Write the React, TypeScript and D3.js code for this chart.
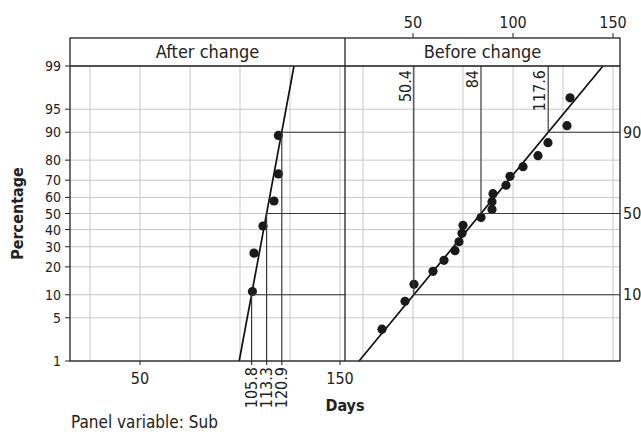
import * as d3 from 'd3';

// Normal probability plot, two panels (Before / After change)

const percentTicks = [1, 5, 10, 20, 30, 40, 50, 60, 70, 80, 90, 95, 99];
const dayGrid = [25, 50, 75, 100, 125, 150];
const refPercents = [10, 50, 90];

// After change
const afterDays = [106.2, 107, 111.5, 117, 119.2, 119.2];
const afterPct = [10.9, 26.6, 42.2, 57.8, 73.4, 89.1];
const afterRef = [105.8, 113.3, 120.9];

// Before change
const beforeDays = [
  34.5, 46, 50.5, 60, 65.5, 71, 73, 74.5, 75, 84,
  89.5, 89.5, 90, 96.5, 98.5, 105, 112.5, 117.5, 127, 128.5,
];
const beforePct = [
  3.4, 8.3, 13.2, 18.1, 23.0, 27.9, 32.8, 37.7, 42.6, 47.5,
  52.5, 57.4, 62.3, 67.2, 72.1, 77.0, 81.9, 86.8, 91.7, 96.6,
];
const beforeRef = [50.4, 84, 117.6];

const FONT = "'Liberation Sans Narrow', 'Arial Narrow', 'DejaVu Sans Condensed', sans-serif";
const GRID = '#c8c8c8';
const REF = '#3a3a3a';

// inverse normal cdf (Acklam)
function probit(p: number): number {
  const a = [-3.969683028665376e1, 2.209460984245205e2, -2.759285104469687e2, 1.38357751867269e2, -3.066479806614716e1, 2.506628277459239];
  const b = [-5.447609879822406e1, 1.615858368580409e2, -1.556989798598866e2, 6.680131188771972e1, -1.328068155288572e1];
  const c = [-7.784894002430293e-3, -3.223964580411365e-1, -2.400758277161838, -2.549732539343734, 4.374664141464968, 2.938163982698783];
  const d = [7.784695709041462e-3, 3.224671290700398e-1, 2.445134137142996, 3.754408661907416];
  const plow = 0.02425;
  if (p < plow) {
    const q = Math.sqrt(-2 * Math.log(p));
    return (((((c[0] * q + c[1]) * q + c[2]) * q + c[3]) * q + c[4]) * q + c[5]) / ((((d[0] * q + d[1]) * q + d[2]) * q + d[3]) * q + 1);
  }
  if (p > 1 - plow) {
    const q = Math.sqrt(-2 * Math.log(1 - p));
    return -(((((c[0] * q + c[1]) * q + c[2]) * q + c[3]) * q + c[4]) * q + c[5]) / ((((d[0] * q + d[1]) * q + d[2]) * q + d[3]) * q + 1);
  }
  const q = p - 0.5;
  const r = q * q;
  return ((((((a[0] * r + a[1]) * r + a[2]) * r + a[3]) * r + a[4]) * r + a[5]) * q) / (((((b[0] * r + b[1]) * r + b[2]) * r + b[3]) * r + b[4]) * r + 1);
}

const top = 66;
const bottom = 361;
const headTop = 38;
const left = 70;
const mid = 345;
const right = 620;

const zScale = d3.scaleLinear().domain([probit(0.01), probit(0.99)]).range([bottom, top]);
const y = (pct: number) => zScale(probit(pct / 100));

const xAfter = d3.scaleLinear().domain([15, 152.5]).range([left, mid]);
const xBefore = d3.scaleLinear().domain([16, 153.5]).range([mid, right]);

function fitLine(ref: number[]) {
  const sd = (ref[2] - ref[0]) / (2 * probit(0.9));
  const pts: [number, number][] = [1, 99].map((p) => [ref[1] + probit(p / 100) * sd, p]);
  return pts;
}

function Panel({ x, days, pct, ref }: { x: d3.ScaleLinear<number, number>; days: number[]; pct: number[]; ref: number[] }) {
  const [x0, x1] = x.range();
  const line = d3.line<[number, number]>().x((d) => x(d[0])).y((d) => y(d[1]));
  return (
    <g>
      {percentTicks.map((p) => (
        <line key={'h' + p} x1={x0} x2={x1} y1={y(p)} y2={y(p)} stroke={GRID} strokeWidth={1} />
      ))}
      {dayGrid.map((g) => (
        <line key={'v' + g} x1={x(g)} x2={x(g)} y1={top} y2={bottom} stroke={GRID} strokeWidth={1} />
      ))}
      <path d={line(fitLine(ref)) || ''} fill="none" stroke="#111" strokeWidth={1.7} />
      {days.map((d, i) => (
        <circle key={i} cx={x(d)} cy={y(pct[i])} r={4.6} fill="#1a1a1a" />
      ))}
    </g>
  );
}

export default function App() {
  const fs = 16;
  return (
    <svg width={641} height={432} style={{ position: 'absolute', left: 0, top: 0, background: '#fff' }} fontFamily={FONT}>
      <rect x={0} y={0} width={641} height={432} fill="#fff" />
      <Panel x={xAfter} days={afterDays} pct={afterPct} ref={afterRef} />
      <Panel x={xBefore} days={beforeDays} pct={beforePct} ref={beforeRef} />

      {/* Before change reference lines */}
      {beforeRef.map((r, i) => (
        <g key={'br' + i}>
          <line x1={xBefore(r)} x2={xBefore(r)} y1={top} y2={y(refPercents[i])} stroke={REF} strokeWidth={1.2} />
          <line x1={xBefore(r)} x2={right} y1={y(refPercents[i])} y2={y(refPercents[i])} stroke={REF} strokeWidth={1.2} />
          <text transform={`translate(${xBefore(r) - 3},${top + 4}) rotate(-90)`} textAnchor="end" fontSize={fs} fill="#222">
            {r}
          </text>
          <text x={right + 3} y={y(refPercents[i])} dy="0.35em" fontSize={fs} fill="#222">
            {refPercents[i]}
          </text>
        </g>
      ))}

      {/* After change reference lines */}
      {afterRef.map((r, i) => (
        <g key={'ar' + i}>
          <line x1={xAfter(r)} x2={xAfter(r)} y1={y(refPercents[i])} y2={bottom + 4} stroke={REF} strokeWidth={1.2} />
          <line x1={xAfter(r)} x2={mid} y1={y(refPercents[i])} y2={y(refPercents[i])} stroke={REF} strokeWidth={1.2} />
          <text transform={`translate(${xAfter(r)},${bottom + 6}) rotate(-90)`} textAnchor="end" dy="0.35em" fontSize={fs} fill="#222">
            {r}
          </text>
        </g>
      ))}

      {/* frames */}
      <rect x={left} y={headTop} width={right - left} height={bottom - headTop} fill="none" stroke="#222" strokeWidth={1.3} />
      <line x1={left} x2={right} y1={top} y2={top} stroke="#222" strokeWidth={1.3} />
      <line x1={mid} x2={mid} y1={headTop} y2={bottom} stroke="#222" strokeWidth={1.3} />
      <text x={(left + mid) / 2} y={(headTop + top) / 2} dy="0.36em" textAnchor="middle" fontSize={18} fill="#222">
        After change
      </text>
      <text x={(mid + right) / 2} y={(headTop + top) / 2} dy="0.36em" textAnchor="middle" fontSize={18} fill="#222">
        Before change
      </text>

      {/* left y axis */}
      {percentTicks.map((p) => (
        <g key={'yt' + p}>
          <line x1={left - 5} x2={left} y1={y(p)} y2={y(p)} stroke="#222" />
          <text x={left - 9} y={y(p)} dy="0.36em" textAnchor="end" fontSize={14} fill="#222">
            {p}
          </text>
        </g>
      ))}

      {/* bottom axis (After change) */}
      {[50, 150].map((t) => (
        <g key={'bx' + t}>
          <line x1={xAfter(t)} x2={xAfter(t)} y1={bottom} y2={bottom + 4} stroke="#222" />
          <text x={xAfter(t)} y={bottom + 23} textAnchor="middle" fontSize={fs} fill="#222">
            {t}
          </text>
        </g>
      ))}

      {/* top axis (Before change) */}
      {[50, 100, 150].map((t) => (
        <g key={'tx' + t}>
          <line x1={xBefore(t)} x2={xBefore(t)} y1={headTop - 5} y2={headTop} stroke="#222" />
          <text x={xBefore(t)} y={28} textAnchor="middle" fontSize={fs} fill="#222">
            {t}
          </text>
        </g>
      ))}

      <text transform={`translate(23,${(top + bottom) / 2}) rotate(-90)`} textAnchor="middle" fontSize={fs} fontWeight="bold" fill="#222">
        Percentage
      </text>
      <text x={mid} y={411} textAnchor="middle" fontSize={fs} fontWeight="bold" fill="#222">
        Days
      </text>
      <text x={71} y={428} fontSize={17} fill="#222">
        Panel variable: Sub
      </text>
    </svg>
  );
}
